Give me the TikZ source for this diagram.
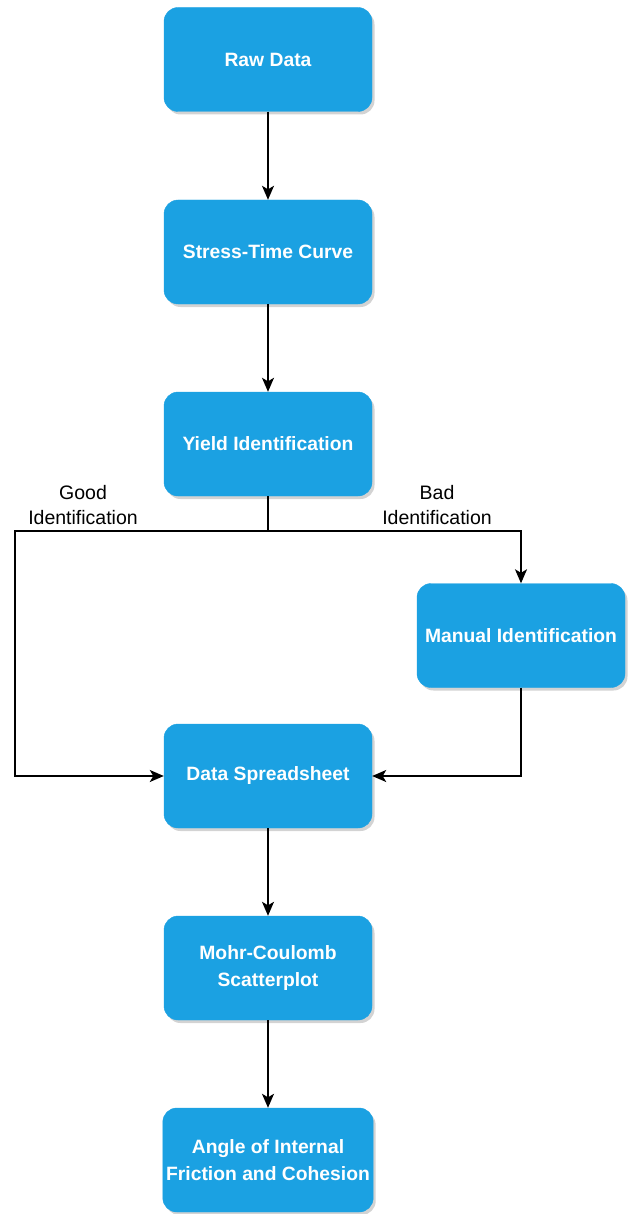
\documentclass[tikz,border=0pt]{standalone}
\usepackage{fontspec}
\setmainfont{Liberation Sans}
\usepackage{tikz}
\usetikzlibrary{arrows.meta,shadows}
\definecolor{boxblue}{HTML}{1BA1E2}

\begin{document}
\begin{tikzpicture}[x=1pt, y=-1pt,
  stepbox/.style={draw=boxblue, fill=boxblue, rounded corners=14pt, minimum width=208pt, minimum height=104pt, align=center, text=white, font=\fontsize{19.3}{27}\selectfont\bfseries, drop shadow={shadow xshift=2.5pt, shadow yshift=-3pt, opacity=0.35}},
  flow/.style={-{Stealth[length=14pt, width=12pt, inset=3.5pt]}, line width=1.5pt},
  branch/.style={font=\fontsize{19.5}{25}\selectfont, align=center}]
\useasboundingbox (0,0) rectangle (629,1214);

% Main column
\node[stepbox] (raw) at (268,59.5) {Raw Data};
\node[stepbox] (stress) at (268,252) {Stress-Time Curve};
\node[stepbox] (yield) at (268,444) {Yield Identification};

% Side branch
\node[stepbox] (manual) at (521,635.5) {Manual Identification};

% Lower column
\node[stepbox] (data) at (268,776) {Data Spreadsheet};
\node[stepbox] (mohr) at (268,968) {Mohr-Coulomb\\Scatterplot};
\node[stepbox] (angle) at (268,1160) {Angle of Internal\\Friction and Cohesion};

% Arrows down
\draw[flow] (raw) -- (stress);
\draw[flow] (stress) -- (yield);
\draw[flow] (data) -- (mohr);
\draw[flow] (mohr) -- (angle);

% Split after identification
\coordinate (split) at (268,531);
\coordinate (goodcorner) at (15,531);
\draw[line width=1.5pt] (yield) -- (split);
\draw[flow] (split) -- (goodcorner) |- (data.west);
\draw[flow] (split) -| (manual.north);
\draw[flow] (manual.south) |- (data.east);

% Branch labels
\node[branch] (good) at (83,505) {Good\\Identification};
\node[branch] (bad) at (437,505) {Bad\\Identification};
\end{tikzpicture}
\end{document}
